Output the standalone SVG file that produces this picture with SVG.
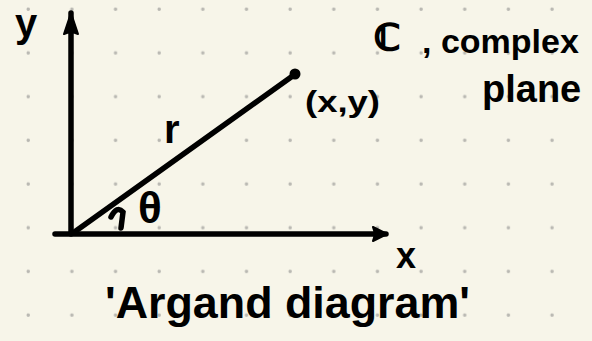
<svg xmlns="http://www.w3.org/2000/svg" width="592" height="341" viewBox="0 0 592 341">
  <defs>
    <pattern id="dots" x="28" y="9" width="43.65" height="43.7" patternUnits="userSpaceOnUse">
      <circle cx="0.5" cy="0.5" r="1.4" fill="#b9b8b2"/>
      <circle cx="43.65" cy="0.5" r="1.4" fill="#b9b8b2"/>
      <circle cx="0.5" cy="43.7" r="1.4" fill="#b9b8b2"/>
      <circle cx="43.65" cy="43.7" r="1.4" fill="#b9b8b2"/>
    </pattern>
    <marker id="arrow" viewBox="0 0 16 16" refX="14" refY="8" markerWidth="16" markerHeight="16" markerUnits="userSpaceOnUse" orient="auto">
      <path d="M1,1 L15,8 L1,15 Q4,8 1,1 Z" fill="#000" stroke="#000" stroke-width="2" stroke-linejoin="round"/>
    </marker>
    <marker id="arrowY" viewBox="0 0 24 18" refX="22" refY="9" markerWidth="24" markerHeight="18" markerUnits="userSpaceOnUse" orient="auto">
      <path d="M1,2 L22,9 L1,16 Q4,9 1,2 Z" fill="#000" stroke="#000" stroke-width="2" stroke-linejoin="round"/>
    </marker>
  </defs>
  <style>
    .ink { stroke: #000; stroke-width: 5.5; stroke-linecap: round; fill: none; }
    .lbl { font-family: "Liberation Sans", "DejaVu Sans", sans-serif; fill: #000; font-weight: bold; }
  </style>
  <rect width="592" height="341" fill="#f7f5e9"/>
  <rect width="592" height="341" fill="url(#dots)"/>

  <g id="connectors">
    <line class="ink" x1="71" y1="234" x2="71" y2="13" marker-end="url(#arrowY)"/>
    <line class="ink" x1="55" y1="234" x2="386" y2="234" marker-end="url(#arrow)"/>
    <line class="ink" x1="73" y1="233" x2="294" y2="75"/>
    <path class="ink" d="M111,217 Q117,205 123,212 L121,228" stroke-width="4.5"/>
  </g>

  <g id="point">
    <circle cx="295" cy="74" r="5.5" fill="#000"/>
  </g>

  <g id="label-y"><text class="lbl" x="15" y="37" font-size="40">y</text></g>
  <g id="label-x"><text class="lbl" x="396" y="268" font-size="36">x</text></g>
  <g id="label-r"><text class="lbl" x="164" y="143" font-size="40">r</text></g>
  <g id="label-theta"><text class="lbl" x="138" y="223" font-size="44">θ</text></g>
  <g id="label-xy"><text class="lbl" x="305" y="112" font-size="30" textLength="75" lengthAdjust="spacingAndGlyphs">(x,y)</text></g>
  <g id="label-complex">
    <text class="lbl" x="374" y="50" font-size="36" stroke="#000" stroke-width="2">ℂ</text>
    <text class="lbl" x="422" y="53" font-size="34">, complex</text>
    <text class="lbl" x="482" y="102" font-size="38">plane</text>
  </g>
  <g id="label-argand">
    <text class="lbl" x="105" y="318" font-size="44" textLength="365" lengthAdjust="spacingAndGlyphs">'Argand diagram'</text>
  </g>
</svg>
